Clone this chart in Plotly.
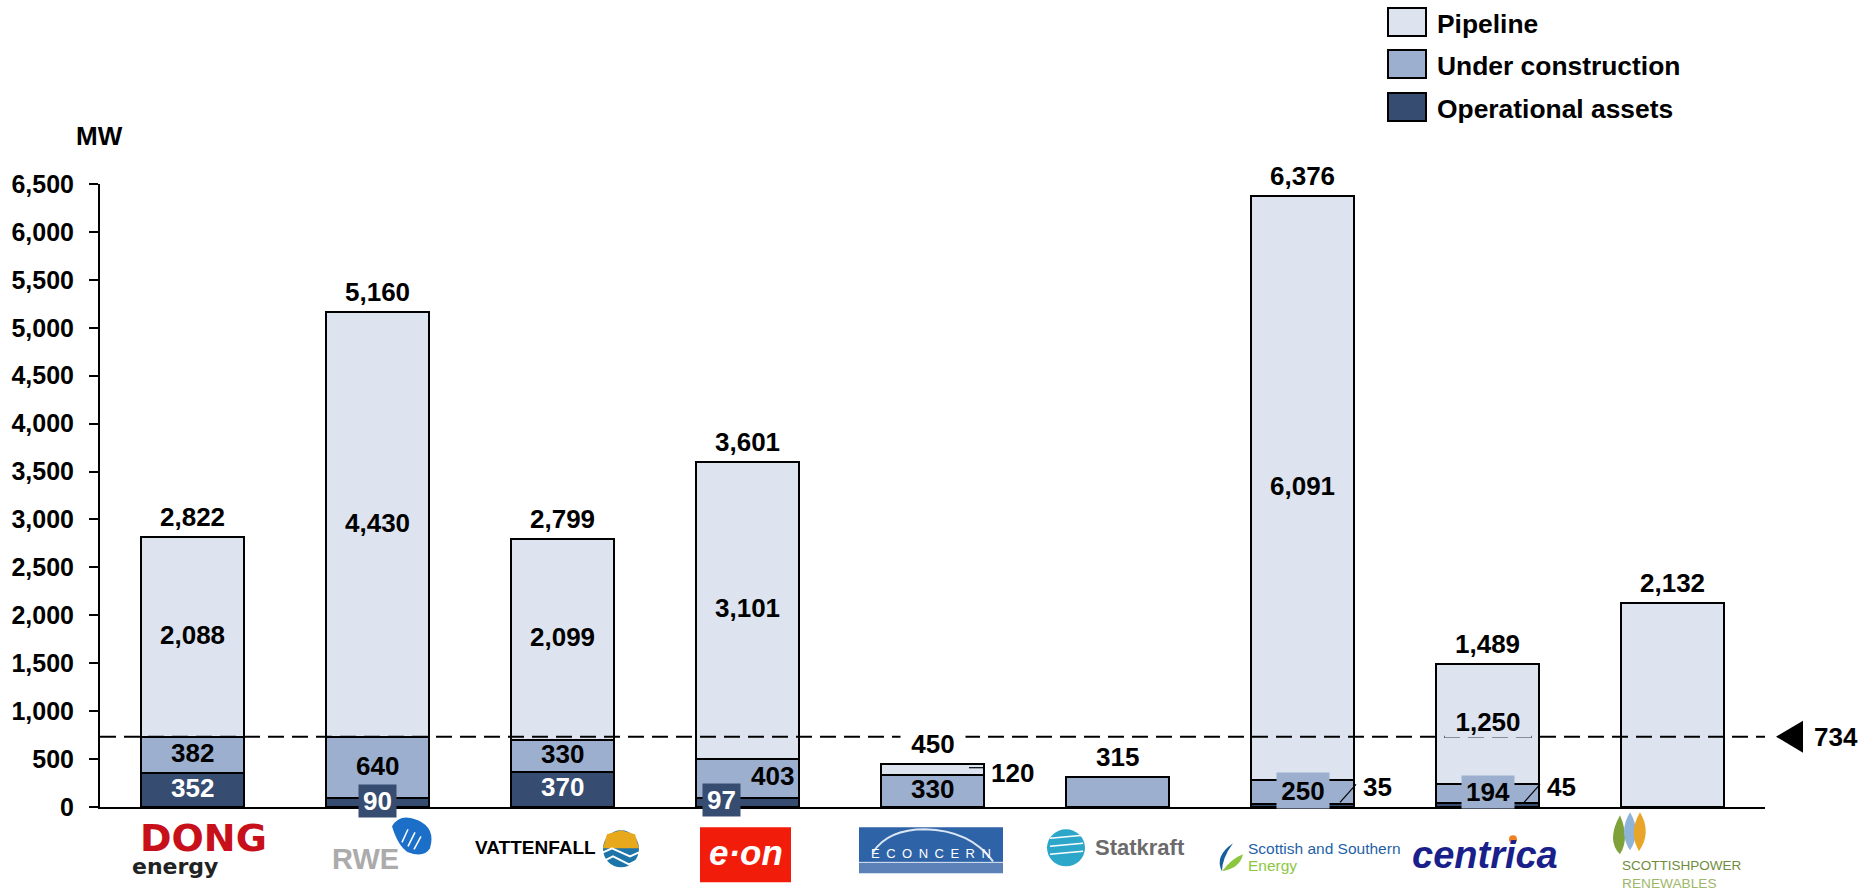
import plotly.graph_objects as go

# Offshore wind capacity by developer (MW)
companies = ["DONG energy", "RWE", "Vattenfall", "E.ON", "Econcern", "Statkraft",
             "Scottish and Southern Energy", "Centrica", "ScottishPower Renewables"]
operational = [352, 90, 370, 97, None, None, 35, 45, None]
construction = [382, 640, 330, 403, 330, 315, 250, 194, None]
pipeline = [2088, 4430, 2099, 3101, 120, None, 6091, 1250, 2132]
totals = [2822, 5160, 2799, 3601, 450, 315, 6376, 1489, 2132]
reference_level = 734
y_ticks = list(range(0, 7000, 500))

C_PIPE, C_CONS, C_OPER = "#DDE4EF", "#9CAFCE", "#364C70"
FONT = "Liberation Sans"
W, H = 1860, 893
L, R, T, B = 100, 1765, 184, 806.7


def fx(px):
    return (px - L) / (R - L)


def fy(px):
    return (B - px) / (B - T)


def py(value):
    return B - value / 6500 * (B - T)


def cx(i):
    return L + (i + 0.5) * (R - L) / 9


fig = go.Figure()
for name, vals, col in [("Operational assets", operational, C_OPER),
                        ("Under construction", construction, C_CONS),
                        ("Pipeline", pipeline, C_PIPE)]:
    fig.add_bar(x=companies, y=vals, name=name, showlegend=False,
                marker=dict(color=col, line=dict(color="#000000", width=2)))

ann = []
shapes = []


def label(x, y, text, color="#000000", size=26, bold=True, bg=None, w=None, h=None,
          xanchor="center", family=FONT, italic=False):
    ann.append(dict(x=fx(x), y=fy(y), xref="paper", yref="paper", text=text, showarrow=False,
                    xanchor=xanchor, yanchor="middle", bgcolor=bg, width=w, height=h,
                    borderpad=0,
                    font=dict(family=family, size=size, color=color,
                              weight="bold" if bold else "normal",
                              style="italic" if italic else "normal")))


def box(x0, y0, x1, y1, fill, line=None, lw=0):
    shapes.append(dict(type="rect", xref="paper", yref="paper", x0=fx(x0), x1=fx(x1),
                       y0=fy(y0), y1=fy(y1), fillcolor=fill,
                       line=dict(color=line or fill, width=lw)))


def oval(x0, y0, x1, y1, fill):
    shapes.append(dict(type="circle", xref="paper", yref="paper", x0=fx(x0), x1=fx(x1),
                       y0=fy(y0), y1=fy(y1), fillcolor=fill, line=dict(width=0)))


def path(points, fill=None, line=None, lw=0, curved=False):
    cmd = f"M {fx(points[0][0]):.5f} {fy(points[0][1]):.5f} "
    if curved:
        for i in range(1, len(points), 2):
            a, b = points[i], points[i + 1]
            cmd += f"Q {fx(a[0]):.5f} {fy(a[1]):.5f} {fx(b[0]):.5f} {fy(b[1]):.5f} "
    else:
        cmd += " ".join(f"L {fx(p[0]):.5f} {fy(p[1]):.5f}" for p in points[1:]) + " "
    cmd += "Z" if fill else ""
    shapes.append(dict(type="path", xref="paper", yref="paper", path=cmd,
                       fillcolor=fill, line=dict(color=line or "rgba(0,0,0,0)", width=lw)))


def fmt(v):
    return f"{v:,}"


# Totals above each bar; Econcern's is drawn later so it can mask the dashed line
for i, t in enumerate(totals):
    if i != 4:
        label(cx(i), py(t) - 20, fmt(t))

# Segment values, centred in their segments unless a bar is too thin
for i in [0, 1, 2, 3, 6]:
    base = (operational[i] or 0) + construction[i]
    label(cx(i), py(base + pipeline[i] / 2) - 2, fmt(pipeline[i]))
label(cx(7), py(45 + 194 + 625) - 2, fmt(pipeline[7]), bg=C_PIPE, w=86, h=30)

for i in [0, 2]:
    label(cx(i), py(operational[i] / 2) - 2, fmt(operational[i]), color="#FFFFFF")
    label(cx(i), py(operational[i] + construction[i] / 2) - 2, fmt(construction[i]))
label(cx(1), py(90 + 320) - 2, fmt(construction[1]))
label(cx(1), 801, fmt(operational[1]), color="#FFFFFF", bg=C_OPER, w=37, h=32)
label(cx(3) + 25, py(97 + 201) - 2, fmt(construction[3]))
label(cx(3) - 26, 800, fmt(operational[3]), color="#FFFFFF", bg=C_OPER, w=37, h=32)
label(cx(4), py(165) - 2, fmt(construction[4]))
label(cx(4) + 80, py(390) + 3, fmt(pipeline[4]))
label(cx(6), 790, fmt(construction[6]), bg=C_CONS, w=52, h=35)
label(cx(6) + 75, 787, fmt(operational[6]))
label(cx(7), 792, fmt(construction[7]), bg=C_CONS, w=52, h=32)
label(cx(7) + 74, 787, fmt(operational[7]))

# Leader lines for the thin segments
for x0, y0, x1, y1 in [(969, py(410), 985, py(410)),
                       (1340, 802, 1356, 784), (1524, 802, 1540, 784)]:
    path([(x0, y0), (x1, y1)], line="#000000", lw=1.2)

# Reference level across the chart
shapes.append(dict(type="line", xref="paper", yref="y", x0=0, x1=1,
                   y0=reference_level, y1=reference_level,
                   line=dict(color="#000000", width=2, dash="16px,8px")))
label(cx(4), py(totals[4]) - 20, fmt(totals[4]), bg="#FFFFFF", w=64, h=30)
path([(1776, py(reference_level)), (1803, py(reference_level) - 16),
      (1803, py(reference_level) + 16)], fill="#000000")
label(1836, py(reference_level), fmt(reference_level))
label(99, 136, "MW")

# Legend
for y0, name, col in [(8, "Pipeline", C_PIPE), (50, "Under construction", C_CONS),
                      (93, "Operational assets", C_OPER)]:
    box(1388, y0, 1426, y0 + 28, col, "#000000", 2)
    label(1436, y0 + 16, name, xanchor="left", size=26.4)

# Company marks under the axis
label(203, 838, "DONG", color="#C8101A", size=38, family="DejaVu Sans")
label(131, 866, "energy", color="#222222", size=22, xanchor="left", family="DejaVu Sans")

label(365, 859, "RWE", color="#ABABAB", size=29)
path([(392, 826), (400, 812), (418, 820), (436, 828), (430, 848), (424, 858), (408, 852), (398, 846), (392, 826)],
     fill="#1C6FC9", curved=True)
for a, b in [((402, 842), (408, 829)), ((408, 846), (415, 832)), ((414, 849), (421, 836))]:
    path([a, b], line="#FFFFFF", lw=1.5)

label(535, 847, "VATTENFALL", size=19)
oval(603, 830, 639, 867, "#1C74A8")
path([(603, 848), (607, 834), (621, 830), (635, 834), (639, 848)], fill="#E8A81C")
path([(603, 852), (612, 848), (621, 852), (630, 856), (639, 852)], line="#FFFFFF", lw=2)
path([(605, 860), (613, 856), (621, 860), (629, 864), (637, 860)], line="#FFFFFF", lw=2)

box(700, 827, 791, 882, "#F21C0A")
label(746, 852, "e·on", color="#FFFFFF", size=35, italic=True)

box(859, 827, 1003, 862, "#2E63A8")
box(859, 862, 1003, 873, "#5C80B8")
path([(873, 852), (888, 829), (925, 829), (970, 830), (993, 861)], line="#DCE6F2", lw=2, curved=True)
path([(859, 862), (1003, 862)], line="#DCE6F2", lw=1)
label(931, 853, "\u2002".join("ECONCERN"), color="#FFFFFF", size=13, bold=False)

oval(1047, 829, 1085, 866, "#2CA6C9")
for y in (838, 846, 854):
    path([(1050, y), (1083, y - 3)], line="#FFFFFF", lw=1.5)
label(1094, 847, "Statkraft", color="#6B6B6B", size=22, xanchor="left")

path([(1233, 843), (1214, 856), (1222, 871), (1222, 858), (1233, 843)], fill="#155F9E", curved=True)
path([(1222, 871), (1240, 868), (1243, 854), (1232, 858), (1222, 871)], fill="#8CC63F", curved=True)
label(1247, 848, "Scottish and Southern", color="#1F5FA8", size=15.5, xanchor="left", bold=False)
label(1247, 865, "Energy", color="#8CC63F", size=15.5, xanchor="left", bold=False)

label(1485, 855, "centrica", color="#1A1F8C", size=38, italic=True)
oval(1509, 835, 1517, 843, "#F08020")

path([(1620, 815), (1606, 840), (1620, 854), (1630, 838), (1620, 815)], fill="#7FA13A", curved=True)
path([(1630, 812), (1618, 832), (1630, 850), (1642, 832), (1630, 812)], fill="#8FB4D9", curved=True)
path([(1640, 812), (1628, 832), (1639, 851), (1652, 832), (1640, 812)], fill="#E9A52A", curved=True)
label(1621, 865, "SCOTTISHPOWER", color="#6F8C3C", size=13.5, xanchor="left", bold=False)
label(1621, 883, "RENEWABLES", color="#9DB86A", size=13.7, xanchor="left", bold=False)

fig.update_layout(
    barmode="stack", bargap=0.44, width=W, height=H,
    autosize=False, plot_bgcolor="#FFFFFF", paper_bgcolor="#FFFFFF",
    margin=dict(l=L, r=W - R, t=T, b=H - B, pad=0),
    font=dict(family=FONT, size=26, color="#000000", weight="bold"),
    annotations=ann, shapes=shapes,
    xaxis=dict(showticklabels=False, ticks="", showline=True, linecolor="#000000", linewidth=2,
               showgrid=False, zeroline=False, categoryorder="array", categoryarray=companies),
    yaxis=dict(range=[0, 6500], tickvals=y_ticks, tickformat=",", ticks="outside", ticklen=9,
               tickwidth=2, tickcolor="#000000", showline=True, linecolor="#000000", linewidth=2,
               showgrid=False, zeroline=False, ticklabelstandoff=10,
               tickfont=dict(family=FONT, size=25, color="#000000", weight="bold")),
)
fig.write_html("out.html", config=dict(displayModeBar=False))
